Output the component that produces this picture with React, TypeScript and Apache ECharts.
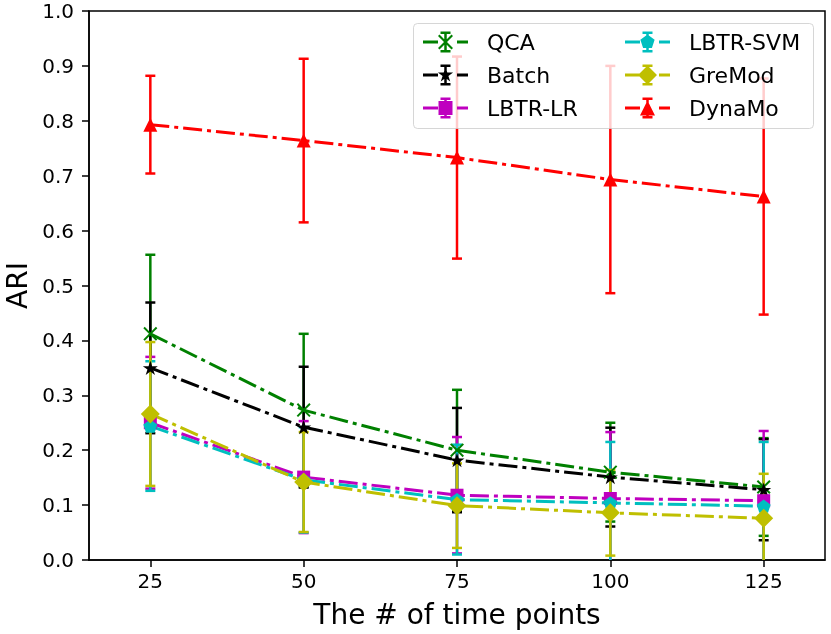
import React, { useEffect, useRef } from "react";
import * as echarts from "echarts";

// ---- data ----
const timePoints = [25, 50, 75, 100, 125];

const qcaMean = [0.412, 0.273, 0.2, 0.16, 0.133];
const qcaErr = [0.144, 0.139, 0.11, 0.09, 0.089];

const batchMean = [0.35, 0.242, 0.182, 0.151, 0.128];
const batchErr = [0.119, 0.11, 0.095, 0.09, 0.092];

const lrMean = [0.25, 0.151, 0.118, 0.112, 0.108];
const lrErr = [0.12, 0.102, 0.106, 0.121, 0.127];

const svmMean = [0.244, 0.146, 0.11, 0.104, 0.098];
const svmErr = [0.118, 0.096, 0.1, 0.111, 0.117];

const gremodMean = [0.266, 0.142, 0.099, 0.086, 0.076];
const gremodErr = [0.131, 0.091, 0.077, 0.078, 0.081];

const dynamoMean = [0.793, 0.764, 0.733, 0.693, 0.662];
const dynamoErr = [0.089, 0.149, 0.184, 0.207, 0.215];

const xAxisName = "The # of time points";
const yAxisName = "ARI";

// ---- marker geometry (unit polygons, clockwise in screen coords) ----
const SHAPES: Record<string, number[][]> = {
  x: [
    [-1, -0.8], [-0.8, -1], [0, -0.2], [0.8, -1], [1, -0.8], [0.2, 0],
    [1, 0.8], [0.8, 1], [0, 0.2], [-0.8, 1], [-1, 0.8], [-0.2, 0],
  ],
  star: [
    [0, -1], [0.2245, -0.309], [0.9511, -0.309], [0.3633, 0.118],
    [0.5878, 0.809], [0, 0.382], [-0.5878, 0.809], [-0.3633, 0.118],
    [-0.9511, -0.309], [-0.2245, -0.309],
  ],
  square: [[-1, -1], [1, -1], [1, 1], [-1, 1]],
  pentagon: [[0, -1], [0.9511, -0.309], [0.5878, 0.809], [-0.5878, 0.809], [-0.9511, -0.309]],
  diamond: [[0, -1], [1, 0], [0, 1], [-1, 0]],
  triangle: [[0, -1], [1, 1], [-1, 1]],
};

const r2 = (v: number) => Math.round(v * 1000) / 1000;
const rectP = (x0: number, y0: number, x1: number, y1: number) =>
  `M${x0} ${y0}H${x1}V${y1}H${x0}Z`;
const polyP = (pts: number[][]) =>
  "M" + pts.map((p) => `${r2(p[0])} ${r2(p[1])}`).join("L") + "Z";
const markerPts = (shape: string, cx: number, cy: number, size: number) =>
  SHAPES[shape].map(([a, b]) => [cx + (a * size) / 2, cy + (b * size) / 2]);

const chartSymbol = (shape: string) => "path://" + polyP(markerPts(shape, 0, 0, 20));
const legendIcon = (shape: string, size: number) =>
  "path://" +
  rectP(0, 9, 15, 12) +
  rectP(34, 9, 45, 12) +
  rectP(21.25, 0, 23.75, 21) +
  rectP(17.5, 0, 27.5, 2.5) +
  rectP(17.5, 18.5, 27.5, 21) +
  polyP(markerPts(shape, 22.5, 10.5, size));

type Method = {
  name: string;
  color: string;
  mean: number[];
  err: number[];
  shape: string;
  size: number;
  legendSize: number;
};

const methods: Method[] = [
  { name: "QCA", color: "#008000", mean: qcaMean, err: qcaErr, shape: "x", size: 14, legendSize: 15 },
  { name: "Batch", color: "#000000", mean: batchMean, err: batchErr, shape: "star", size: 15, legendSize: 16 },
  { name: "LBTR-LR", color: "#bf00bf", mean: lrMean, err: lrErr, shape: "square", size: 13, legendSize: 14 },
  { name: "LBTR-SVM", color: "#00bfbf", mean: svmMean, err: svmErr, shape: "pentagon", size: 14, legendSize: 15 },
  { name: "GreMod", color: "#bfbf00", mean: gremodMean, err: gremodErr, shape: "diamond", size: 19, legendSize: 19 },
  { name: "DynaMo", color: "#ff0000", mean: dynamoMean, err: dynamoErr, shape: "triangle", size: 14, legendSize: 15 },
];

const FONT = "DejaVu Sans";

function makeErrRender(color: string) {
  return (params: any, api: any) => {
    const x = api.value(0);
    const lo = api.value(1);
    const hi = api.value(2);
    const cs = params.coordSys;
    const pHi = api.coord([x, hi]);
    const pLo = api.coord([x, lo]);
    const cx = pHi[0];
    const yTop = Math.max(pHi[1], cs.y);
    const yBot = Math.min(pLo[1], cs.y + cs.height);
    const style = { stroke: color, lineWidth: 2.5 };
    const children: any[] = [
      { type: "line", shape: { x1: cx, y1: yTop, x2: cx, y2: yBot }, style },
    ];
    const cw = 5;
    if (pHi[1] >= cs.y) {
      children.push({ type: "line", shape: { x1: cx - cw, y1: pHi[1], x2: cx + cw, y2: pHi[1] }, style });
    }
    if (pLo[1] <= cs.y + cs.height) {
      children.push({ type: "line", shape: { x1: cx - cw, y1: pLo[1], x2: cx + cw, y2: pLo[1] }, style });
    }
    return { type: "group", children };
  };
}

export default function App() {
  const ref = useRef<HTMLDivElement>(null);

  useEffect(() => {
    if (!ref.current) return;
    const chart = echarts.init(ref.current, undefined, { renderer: "svg" });

    const errSeries = methods.map((m) => ({
      type: "custom",
      name: m.name + " error",
      z: 2,
      silent: true,
      renderItem: makeErrRender(m.color),
      data: timePoints.map((t, i) => [t, m.mean[i] - m.err[i], m.mean[i] + m.err[i]]),
      encode: { x: 0, y: [1, 2] },
    }));

    const lineSeries = methods.map((m) => ({
      type: "line",
      name: m.name,
      z: 3,
      silent: true,
      data: timePoints.map((t, i) => [t, m.mean[i]]),
      symbol:
        m.shape === "square" ? "rect" : m.shape === "diamond" ? "diamond" : m.shape === "triangle" ? "triangle" : chartSymbol(m.shape),
      symbolSize: m.size,
      symbolKeepAspect: true,
      showSymbol: true,
      color: m.color,
      itemStyle: { color: m.color, borderWidth: 0 },
      lineStyle: { color: m.color, width: 3, type: [19, 5, 4, 5] },
      emphasis: { disabled: true },
    }));

    const legendCommon = {
      orient: "vertical",
      top: 31,
      padding: 0,
      itemWidth: 45,
      itemHeight: 21,
      itemGap: 11,
      selectedMode: false,
      z: 20,
      itemStyle: { borderWidth: 0 },
      textStyle: { fontSize: 22, color: "#000", fontFamily: FONT, padding: [0, 0, 0, 14] },
    };

    chart.setOption({
      animation: false,
      textStyle: { fontFamily: FONT },
      grid: {
        left: 89,
        right: 6,
        top: 11,
        bottom: 74,
        containLabel: false,
        outerBoundsMode: "none",
        show: true,
        borderColor: "#000",
        borderWidth: 1.5,
        backgroundColor: "transparent",
      },
      xAxis: {
        type: "value",
        min: 15,
        max: 135,
        name: xAxisName,
        nameLocation: "middle",
        nameGap: 40,
        nameTextStyle: { fontSize: 28, color: "#000", fontFamily: FONT },
        axisLine: { lineStyle: { color: "#000", width: 1.5 } },
        axisTick: { show: true, length: 7, lineStyle: { color: "#000", width: 1.5 }, customValues: timePoints },
        axisLabel: { fontSize: 20, color: "#000", margin: 11, customValues: timePoints, fontFamily: FONT },
        splitLine: { show: false },
      },
      yAxis: {
        type: "value",
        min: 0,
        max: 1,
        interval: 0.1,
        name: yAxisName,
        nameLocation: "middle",
        nameRotate: 90,
        nameGap: 52,
        nameTextStyle: { fontSize: 28, color: "#000", fontFamily: FONT },
        axisLine: { show: true, lineStyle: { color: "#000", width: 1.5 } },
        axisTick: { show: true, length: 7, lineStyle: { color: "#000", width: 1.5 } },
        axisLabel: { fontSize: 20, color: "#000", margin: 15, fontFamily: FONT, formatter: (v: number) => v.toFixed(1) },
        splitLine: { show: false },
      },
      legend: [
        { ...legendCommon, left: 423, data: methods.slice(0, 3).map((m) => ({ name: m.name, icon: legendIcon(m.shape, m.legendSize) })) },
        { ...legendCommon, left: 625, data: methods.slice(3).map((m) => ({ name: m.name, icon: legendIcon(m.shape, m.legendSize) })) },
      ],
      graphic: [
        {
          type: "rect",
          left: 413,
          top: 23,
          z: 10,
          silent: true,
          shape: { width: 400, height: 105, r: 4 },
          style: { fill: "rgba(255,255,255,0.8)", stroke: "rgba(204,204,204,0.8)", lineWidth: 1 },
        },
      ],
      series: [...errSeries, ...lineSeries],
    });

    return () => chart.dispose();
  }, []);

  return (
    <div
      ref={ref}
      style={{ position: "fixed", left: 0, top: 0, width: 831, height: 634 }}
    />
  );
}
